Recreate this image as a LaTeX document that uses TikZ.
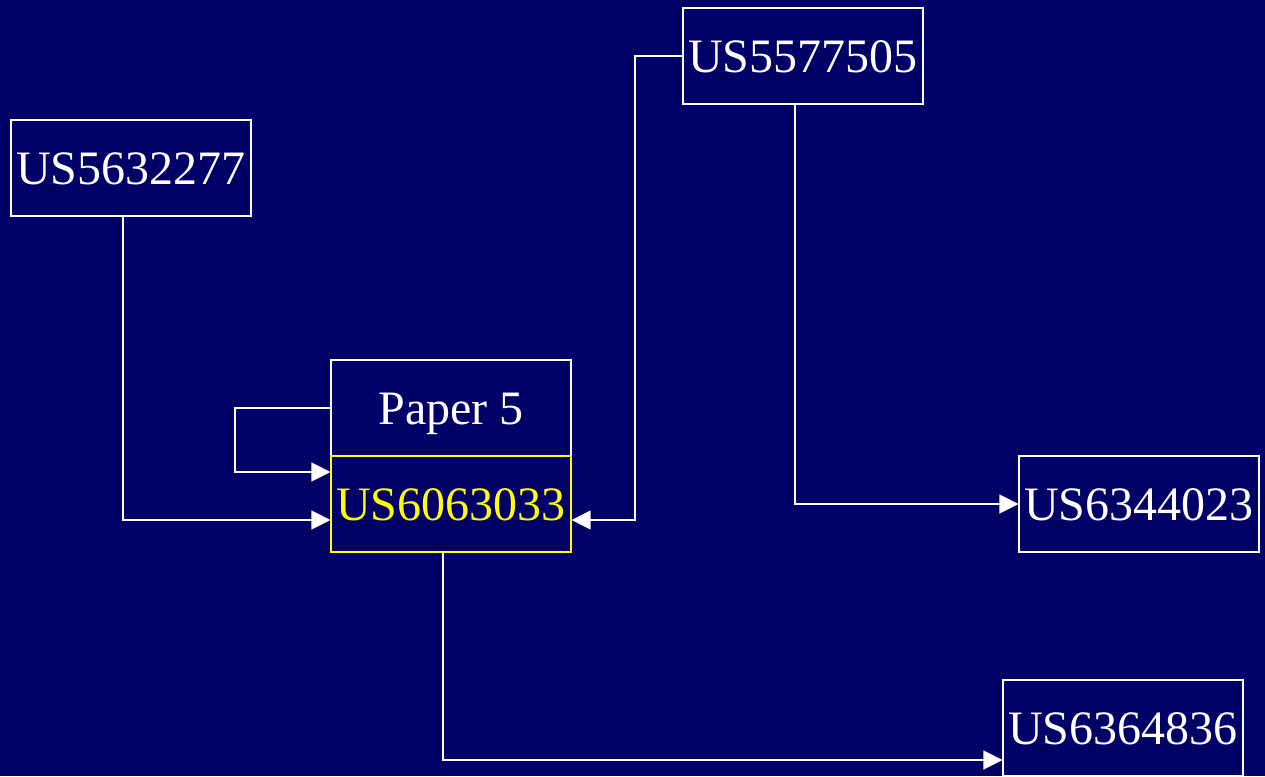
\documentclass[tikz,border=0pt]{standalone}
\usepackage{fontspec}
\setmainfont{Liberation Serif}
\usetikzlibrary{arrows.meta}
\definecolor{bg}{RGB}{0,0,102}
\definecolor{hl}{RGB}{255,255,0}
\tikzset{
  pbox/.style={draw=white, line width=1.3pt, text=white, minimum width=240pt, minimum height=96pt, inner sep=0pt, text height=32pt, text depth=0pt, font=\fontsize{48}{50}\selectfont},
  hbox/.style={pbox, draw=hl, text=hl},
  conn/.style={draw=white, line width=1.5pt, -{Triangle[length=19pt,width=19pt]}}
}
\begin{document}
\begin{tikzpicture}[x=1pt,y=-1pt]
\fill[bg] (0,0) rectangle (1265,776);
\useasboundingbox (0,0) rectangle (1265,776);
\node[pbox] (a) at (131,168) {US5632277};
\node[pbox] (b) at (803,56) {US5577505};
\node[pbox] (p) at (451,408) {Paper 5};
\node[hbox] (c) at (451,504) {US6063033};
\node[pbox] (d) at (1139,504) {US6344023};
\node[pbox] (e) at (1123,728) {US6364836};
\draw[conn] (a.south -| 123,0) -- (123,520) -- (c.west |- 0,520);
\draw[conn] (p.west) -- (235,408) -- (235,472) -- (c.west |- 0,472);
\draw[conn] (b.west) -- (635,56) -- (635,520) -- (c.east |- 0,520);
\draw[conn] (b.south -| 795,0) -- (795,504) -- (d.west);
\draw[conn] (c.south -| 443,0) -- (443,760) -- (e.west |- 0,760);
\end{tikzpicture}
\end{document}
